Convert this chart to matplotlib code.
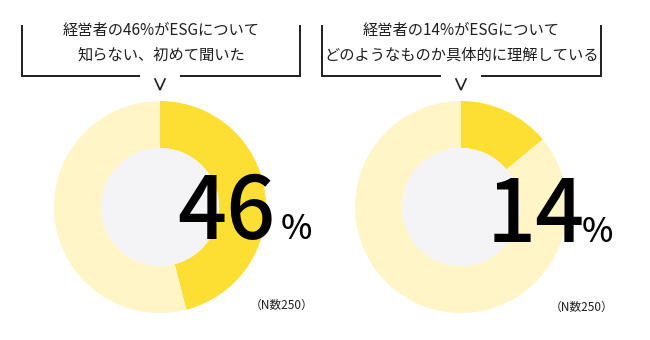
import matplotlib
matplotlib.use("Agg")
import matplotlib.pyplot as plt

plt.rcParams['font.family'] = ['Noto Sans CJK JP', 'DejaVu Sans']

# Survey results (percent of executives)
shares = [46, 14]
n_sizes = [250, 250]
titles = [
    "経営者の46%がESGについて\n知らない、初めて聞いた",
    "経営者の14%がESGについて\nどのようなものか具体的に理解している",
]

DARK = "#FDDE33"
LIGHT = "#FFF5C6"
HOLE = "#F4F4F6"
INK = "#1E1E1E"

W, H = 650, 340
fig = plt.figure(figsize=(6.5, 3.4), dpi=100)
ax = fig.add_axes([0, 0, 1, 1])

def Y(py):
    return H - py

centers_x = [160, 461]
box_edges = [(22, 300), (322, 601)]
radius = 106
hole_r = 59
cy = 207

num_centers = [226, 536]
num_baselines = [239, 242]
pct_left = [281, 582]
note_x = [282, 582]
note_y = [305, 307]

for i, share in enumerate(shares):
    cx = centers_x[i]
    ax.pie([share, 100 - share], colors=[DARK, LIGHT], startangle=90,
           counterclock=False, center=(cx, Y(cy)), radius=radius,
           wedgeprops=dict(width=radius - hole_r, linewidth=0))
    ax.add_patch(plt.Circle((cx, Y(cy)), hole_r, color=HOLE, lw=0, zorder=3))

    # callout bracket: left, right and bottom sides with a gap for the arrow
    x0, x1 = box_edges[i]
    top, bot = 25, 76
    lw = 1.4
    ax.plot([x0, x0, cx - 20], [Y(top), Y(bot), Y(bot)], color=INK, lw=lw,
            solid_capstyle='butt', solid_joinstyle='miter')
    ax.plot([cx + 20, x1, x1], [Y(bot), Y(bot), Y(top)], color=INK, lw=lw,
            solid_capstyle='butt', solid_joinstyle='miter')
    ax.plot([cx - 5, cx, cx + 5], [Y(79), Y(90), Y(79)], color=INK, lw=1.2,
            solid_joinstyle='miter')
    ax.text((x0 + x1) / 2, Y(43), titles[i], ha='center', va='center',
            fontsize=11, color=INK, linespacing=1.6)

    # big percentage
    ax.text(num_centers[i], Y(num_baselines[i]), str(share), ha='center',
            va='baseline', fontsize=62, weight='medium', color='#000000',
            zorder=5)
    ax.text(pct_left[i], Y(num_baselines[i]), "%", ha='left', va='baseline',
            fontsize=24, weight='medium', color='#000000', zorder=5)

    ax.text(note_x[i], Y(note_y[i]), f"（N数{n_sizes[i]}）", ha='center',
            va='center', fontsize=8.5, color=INK)

ax.set_xlim(0, W)
ax.set_ylim(0, H)
ax.set_aspect('auto')
ax.axis('off')
fig.savefig("out.png", dpi=100, facecolor='white')
